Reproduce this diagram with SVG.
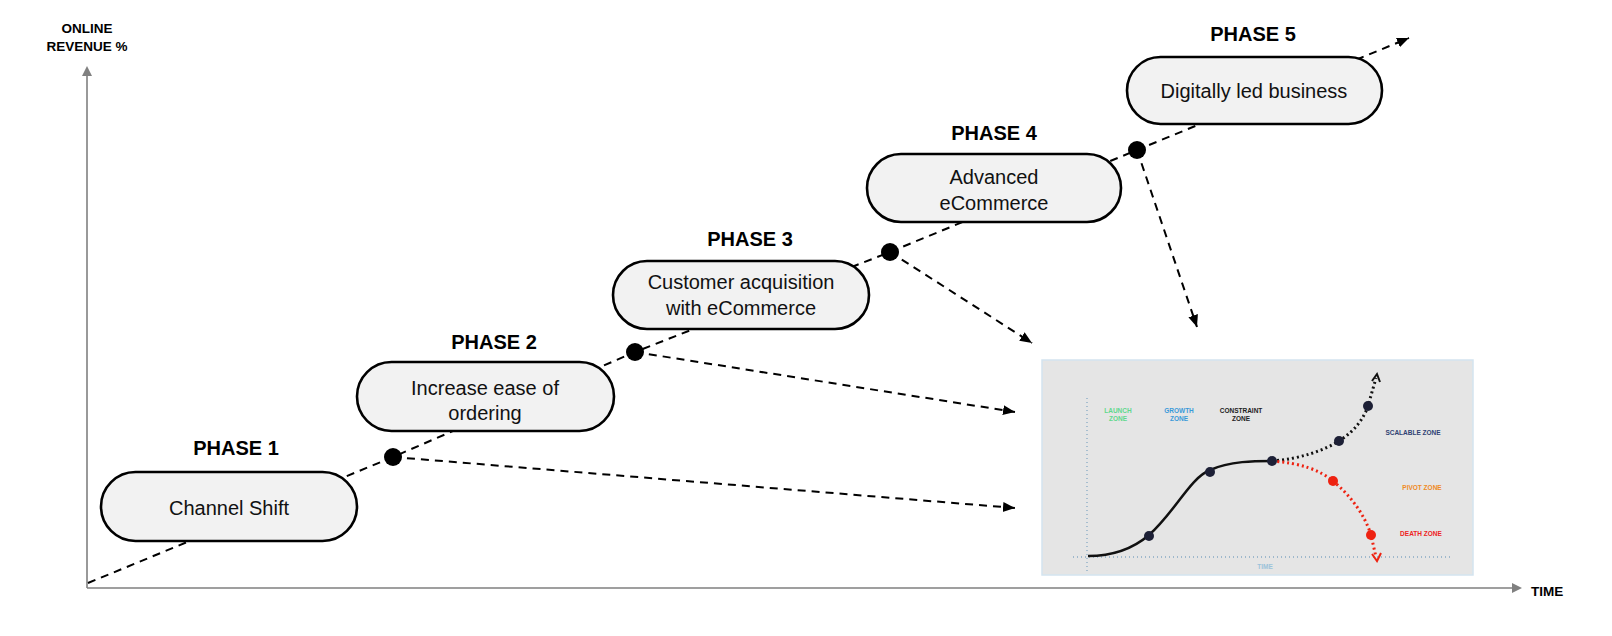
<svg xmlns="http://www.w3.org/2000/svg" width="1612" height="636" viewBox="0 0 1612 636">
<style>
.phase{font-family:"Liberation Sans",Arial,sans-serif;font-weight:bold;font-size:20px;fill:#000;text-anchor:middle}
.lbl{font-family:"Liberation Sans",Arial,sans-serif;font-size:20px;fill:#111;text-anchor:middle}
.box{fill:#f2f2f2;stroke:#000;stroke-width:2.6}
.dash{fill:none;stroke:#000;stroke-width:2;stroke-dasharray:8 6}
.axis{fill:none;stroke:#808080;stroke-width:1.6}
.axt{font-family:"Liberation Sans",Arial,sans-serif;font-weight:bold;font-size:13.5px;fill:#000}
.z{font-family:"Liberation Sans",Arial,sans-serif;font-weight:bold;font-size:6.5px;text-anchor:middle}
.dot{fill:#000}
</style>
<defs>
<marker id="ah" markerUnits="userSpaceOnUse" markerWidth="14" markerHeight="12" refX="12" refY="5" orient="auto">
<path d="M0,0 L12,5 L0,10 Z" fill="#000"/>
</marker>
</defs>
<rect width="1612" height="636" fill="#fff"/>
<g id="axes">
<path class="axis" d="M87,588 V74 M87,588 H1513"/>
<path d="M82,76 L87,66 L92,76 Z" fill="#808080"/>
<path d="M1512,583 L1522,588 L1512,593 Z" fill="#808080"/>
<text class="axt" x="87" y="33" text-anchor="middle">ONLINE</text>
<text class="axt" x="87" y="51" text-anchor="middle">REVENUE %</text>
<text class="axt" x="1531" y="596">TIME</text>
</g>
<g id="inset">
<rect x="1042" y="360" width="431" height="215" fill="#e5e5e5" stroke="#d3e4ef" stroke-width="1.5"/>
<path d="M1087,398 V572 M1073,557 H1450" fill="none" stroke="#86a9c4" stroke-width="1.3" stroke-dasharray="1 3"/>
<text class="z" x="1118" y="413" fill="#5fd88c">LAUNCH</text>
<text class="z" x="1118" y="421" fill="#5fd88c">ZONE</text>
<text class="z" x="1179" y="413" fill="#3a9ad9">GROWTH</text>
<text class="z" x="1179" y="421" fill="#3a9ad9">ZONE</text>
<text class="z" x="1241" y="413" fill="#222">CONSTRAINT</text>
<text class="z" x="1241" y="421" fill="#222">ZONE</text>
<text class="z" x="1413" y="435" fill="#2f4273">SCALABLE ZONE</text>
<text class="z" x="1422" y="490" fill="#f08a24">PIVOT ZONE</text>
<text class="z" x="1421" y="536" fill="#ee2222">DEATH ZONE</text>
<text class="z" x="1265" y="569" fill="#9cc3da" font-weight="normal">TIME</text>
<path d="M1088,556 C1115,556 1135,547 1149,535 C1175,512 1190,478 1210,470 C1230,461 1255,461 1272,461" fill="none" stroke="#111" stroke-width="2.5"/>
<path d="M1272,461 C1300,459 1325,450 1339,441 C1355,431 1364,418 1368,406 L1376,378" fill="none" stroke="#111" stroke-width="3" stroke-dasharray="2 3"/>
<path d="M1372,381 L1377,374 L1380,382" fill="none" stroke="#111" stroke-width="2"/>
<path d="M1272,461 C1300,463 1320,470 1333,481 C1350,495 1365,515 1371,535 L1376,557" fill="none" stroke="#ee2211" stroke-width="3" stroke-dasharray="2 3"/>
<path d="M1372,554 L1377,561 L1381,553" fill="none" stroke="#ee2211" stroke-width="2"/>
<g fill="#1d2036">
<circle cx="1149" cy="536" r="5"/>
<circle cx="1210" cy="472" r="5"/>
<circle cx="1272" cy="461" r="5"/>
<circle cx="1339" cy="441" r="5"/>
<circle cx="1368" cy="406" r="5"/>
</g>
<g fill="#ee2211">
<circle cx="1333" cy="481" r="5"/>
<circle cx="1371" cy="535" r="5"/>
</g>
</g>
<g id="connectors">
<path class="dash" d="M88,583 L393,457 L635,352 L890,252 L1137,150 L1409,38" marker-end="url(#ah)"/>
<path class="dash" d="M393,457 L1015,508" marker-end="url(#ah)"/>
<path class="dash" d="M635,352 L1015,412" marker-end="url(#ah)"/>
<path class="dash" d="M890,252 L1032,343" marker-end="url(#ah)"/>
<path class="dash" d="M1137,150 L1197,327" marker-end="url(#ah)"/>
</g>
<g id="phase1">
<text class="phase" x="236" y="455">PHASE 1</text>
<rect class="box" x="101" y="472" width="256" height="69" rx="34.5"/>
<text class="lbl" x="229" y="515">Channel Shift</text>
</g>
<g id="phase2">
<text class="phase" x="494" y="349">PHASE 2</text>
<rect class="box" x="357" y="362" width="257" height="69" rx="34.5"/>
<text class="lbl" x="485" y="395">Increase ease of</text>
<text class="lbl" x="485" y="420">ordering</text>
</g>
<g id="phase3">
<text class="phase" x="750" y="246">PHASE 3</text>
<rect class="box" x="613" y="261" width="256" height="68" rx="34"/>
<text class="lbl" x="741" y="289">Customer acquisition</text>
<text class="lbl" x="741" y="315">with eCommerce</text>
</g>
<g id="phase4">
<text class="phase" x="994" y="140">PHASE 4</text>
<rect class="box" x="867" y="154" width="254" height="68" rx="34"/>
<text class="lbl" x="994" y="184">Advanced</text>
<text class="lbl" x="994" y="210">eCommerce</text>
</g>
<g id="phase5">
<text class="phase" x="1253" y="41">PHASE 5</text>
<rect class="box" x="1127" y="57" width="255" height="67" rx="33.5"/>
<text class="lbl" x="1254" y="98">Digitally led business</text>
</g>
<g id="dots">
<circle class="dot" cx="393" cy="457" r="9"/>
<circle class="dot" cx="635" cy="352" r="9"/>
<circle class="dot" cx="890" cy="252" r="9"/>
<circle class="dot" cx="1137" cy="150" r="9"/>
</g>
</svg>
